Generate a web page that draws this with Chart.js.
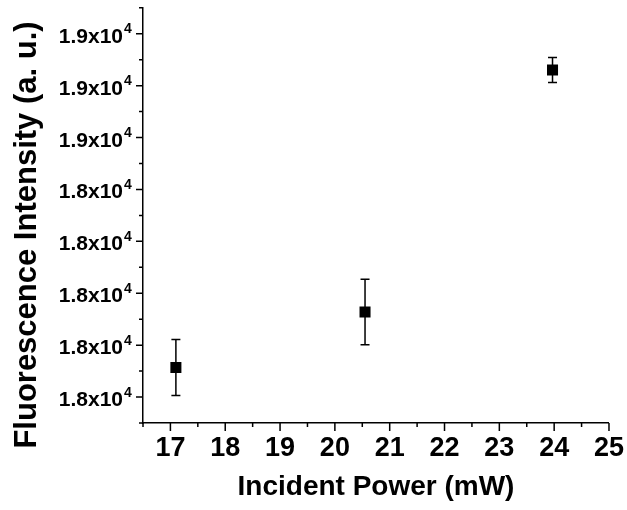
<!DOCTYPE html>
<html>
<head>
<meta charset="utf-8">
<script src="https://cdn.jsdelivr.net/npm/chart.js@4"></script>
<style>
  body { margin: 0; background: #fff; }
</style>
</head>
<body>
<canvas id="chart" width="627" height="510"></canvas>
<script>
'use strict';
// data
const powers = [17.1, 20.55, 23.97];
const intensity = [18057, 18164, 18630];
const intensityErr = [54, 63, 24];

// axis ticks
const xTickValues = [16.5, 17, 17.5, 18, 18.5, 19, 19.5, 20, 20.5, 21, 21.5, 22, 22.5, 23, 23.5, 24, 24.5, 25];
const yTickValues = [18000, 18100, 18200, 18300, 18400, 18500, 18600, 18700];
const yTickLabels = ['1.8x10', '1.8x10', '1.8x10', '1.8x10', '1.8x10', '1.9x10', '1.9x10', '1.9x10'];
const yTickExponent = '4';
const yMinorValues = [17950, 18050, 18150, 18250, 18350, 18450, 18550, 18650, 18750];

const FONT = 'Arial, "Liberation Sans", sans-serif';

// error bars, drawn under the markers
const errorBars = {
  id: 'errorBars',
  beforeDatasetsDraw(chart) {
    const { ctx, scales: { x, y } } = chart;
    ctx.save();
    ctx.strokeStyle = '#000';
    ctx.lineWidth = 1.5;
    for (let i = 0; i < powers.length; i++) {
      const px = x.getPixelForValue(powers[i]);
      const top = y.getPixelForValue(intensity[i] + intensityErr[i]);
      const bottom = y.getPixelForValue(intensity[i] - intensityErr[i]);
      ctx.beginPath();
      ctx.moveTo(px, top);
      ctx.lineTo(px, bottom);
      ctx.moveTo(px - 4.5, top);
      ctx.lineTo(px + 4.5, top);
      ctx.moveTo(px - 4.5, bottom);
      ctx.lineTo(px + 4.5, bottom);
      ctx.stroke();
    }
    ctx.restore();
  },
};

// outward tick marks, y labels with superscript, y title
const axisDecor = {
  id: 'axisDecor',
  afterDraw(chart) {
    const { ctx, scales: { x, y }, chartArea } = chart;
    ctx.save();
    ctx.strokeStyle = '#000';
    ctx.lineWidth = 1.5;
    ctx.beginPath();
    xTickValues.forEach((v) => {
      const px = x.getPixelForValue(v);
      const len = Number.isInteger(v) ? 8 : 4;
      ctx.moveTo(px, chartArea.bottom);
      ctx.lineTo(px, chartArea.bottom + len);
    });
    yTickValues.forEach((v) => {
      const py = y.getPixelForValue(v);
      ctx.moveTo(chartArea.left, py);
      ctx.lineTo(chartArea.left - 7, py);
    });
    yMinorValues.forEach((v) => {
      const py = y.getPixelForValue(v);
      ctx.moveTo(chartArea.left, py);
      ctx.lineTo(chartArea.left - 4, py);
    });
    ctx.stroke();

    // tick labels
    ctx.fillStyle = '#000';
    ctx.textBaseline = 'alphabetic';
    yTickValues.forEach((v, i) => {
      const py = y.getPixelForValue(v);
      ctx.font = 'bold 21px ' + FONT;
      ctx.textAlign = 'right';
      ctx.fillText(yTickLabels[i], 123, py + 9);
      ctx.font = 'bold 14px ' + FONT;
      ctx.textAlign = 'left';
      ctx.fillText(yTickExponent, 124, py - 0.5);
    });

    // y title
    ctx.translate(36, 235);
    ctx.rotate(-Math.PI / 2);
    ctx.font = 'bold 31px ' + FONT;
    ctx.textAlign = 'center';
    ctx.fillText('Fluorescence Intensity (a. u.)', 0, 0);
    ctx.restore();
  },
};

new Chart(document.getElementById('chart'), {
  type: 'scatter',
  data: {
    datasets: [
      {
        data: powers.map((p, i) => ({ x: p, y: intensity[i] })),
        pointStyle: 'rect',
        pointRadius: 7.8,
        backgroundColor: '#000',
        borderColor: '#000',
        borderWidth: 0,
      },
    ],
  },
  options: {
    responsive: false,
    animation: false,
    events: [],
    layout: { padding: { left: 0, right: 18, top: 7, bottom: 0 } },
    plugins: {
      legend: { display: false },
      tooltip: { enabled: false },
    },
    scales: {
      x: {
        type: 'linear',
        min: 16.5,
        max: 25,
        // tick marks are drawn by axisDecor; tickLength only pushes labels down
        grid: { display: false, drawTicks: true, tickLength: 6 },
        border: { display: true, color: '#000', width: 1.5 },
        ticks: {
          stepSize: 0.5,
          padding: 3,
          color: '#000',
          maxRotation: 0,
          autoSkip: false,
          font: { family: FONT, size: 27, weight: 'bold' },
          callback: (v) => (Number.isInteger(v) ? String(v) : ''),
        },
        title: {
          display: true,
          text: 'Incident Power (mW)',
          color: '#000',
          padding: { top: 0, bottom: 6 },
          font: { family: FONT, size: 28, weight: 'bold' },
        },
        afterFit: (scale) => { scale.height = 87; },
      },
      y: {
        type: 'linear',
        min: 17950,
        max: 18750,
        grid: { display: false, drawTicks: false },
        border: { display: true, color: '#000', width: 1.5 },
        ticks: { display: false, stepSize: 50 },
        afterFit: (scale) => { scale.width = 143; },
      },
    },
  },
  plugins: [errorBars, axisDecor],
});
</script>
</body>
</html>
